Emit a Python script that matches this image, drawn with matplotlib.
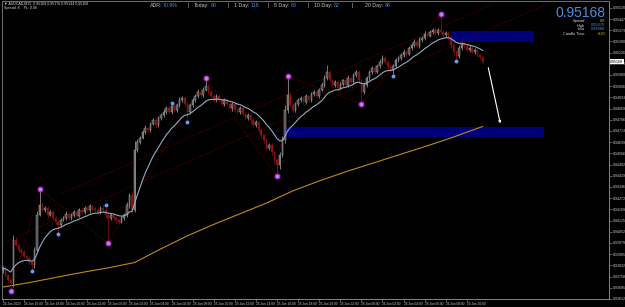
import numpy as np
import pandas as pd
import matplotlib
matplotlib.use("Agg")
import matplotlib.pyplot as plt
from matplotlib.patches import Rectangle

plt.rcParams['font.family'] = ['Liberation Sans', 'DejaVu Sans']

# ---------------- data (prices in 1e-5 units) ----------------
closes_pts = [
    93814, 93768, 93735, 93716, 93998, 93965, 93932, 93919, 93893, 93880,
    93853, 93834, 93932, 94162, 94227, 94194, 94208, 94162, 94181, 94142,
    94116, 94096, 94129, 94142, 94168, 94142, 94162, 94181, 94155, 94194,
    94181, 94208, 94194, 94221, 94201, 94194, 94181, 94208, 94194, 94162,
    94142, 94162, 94142, 94129, 94116, 94142, 94162, 94227, 94293, 94194,
    94588, 94641, 94667, 94706, 94732, 94719, 94759, 94785, 94752, 94798,
    94818, 94837, 94864, 94837, 94877, 94850, 94883, 94916, 94929, 94890,
    94837, 94883, 94916, 94942, 94969, 94949, 94982, 95008, 94969, 94942,
    94916, 94942, 94916, 94890, 94916, 94890, 94864, 94890, 94850, 94837,
    94864, 94824, 94798, 94818, 94785, 94752, 94772, 94719, 94686, 94654,
    94601, 94621, 94575, 94522, 94490, 94555, 94654, 94850, 94949, 94883,
    94850, 94890, 94916, 94929, 94903, 94942, 94916, 94955, 94969, 94942,
    94982, 95014, 95060, 95100, 95047, 95014, 95034, 94995, 95021, 95047,
    95014, 95060, 95034, 95080, 95100, 95047, 94969, 95014, 95060, 95100,
    95126, 95100, 95139, 95165, 95192, 95165, 95139, 95113, 95139, 95178,
    95192, 95211, 95231, 95218, 95257, 95277, 95297, 95270, 95310, 95323,
    95349, 95336, 95362, 95375, 95356, 95375, 95362, 95342, 95356, 95323,
    95277, 95231, 95205, 95257, 95283, 95270, 95244, 95257, 95231, 95244,
    95211, 95198, 95168,
]
first_open_pts = 93800

upper_wick_pts = [
    15, 10, 8, 12, 33, 18, 12, 10, 14, 9,
    12, 10, 20, 25, 105, 18, 14, 10, 16, 12,
    10, 8, 15, 12, 18, 10, 14, 16, 9, 12,
    15, 10, 12, 14, 9, 11, 13, 10, 25, 12,
    10, 14, 9, 12, 10, 15, 12, 20, 16, 18,
    60, 20, 15, 12, 18, 10, 14, 16, 12, 15,
    12, 18, 14, 10, 16, 12, 15, 18, 14, 10,
    12, 15, 10, 14, 18, 12, 16, 52, 14, 10,
    12, 16, 10, 14, 12, 10, 15, 12, 10, 14,
    12, 10, 14, 12, 10, 15, 12, 10, 14, 8,
    12, 10, 14, 9, 12, 20, 25, 30, 124, 18,
    12, 15, 10, 14, 12, 16, 10, 14, 12, 15,
    14, 18, 20, 46, 12, 10, 15, 12, 14, 10,
    12, 18, 10, 14, 16, 12, 10, 14, 12, 16,
    14, 12, 16, 18, 20, 12, 10, 14, 12, 16,
    14, 12, 18, 10, 16, 14, 20, 12, 16, 14,
    18, 12, 16, 14, 20, 15, 104, 18, 14, 12,
    10, 12, 14, 20, 16, 12, 15, 18, 10, 12,
    10, 12, 8,
]
lower_wick_pts = [
    20, 15, 18, 53, 25, 12, 10, 14, 12, 10,
    15, 40, 20, 12, 10, 14, 12, 18, 10, 15,
    12, 59, 14, 10, 12, 16, 10, 14, 12, 9,
    12, 14, 10, 16, 12, 10, 14, 12, 10, 20,
    164, 15, 12, 18, 14, 10, 12, 14, 20, 18,
    15, 12, 14, 10, 16, 12, 14, 10, 18, 12,
    10, 14, 12, 16, 10, 14, 12, 10, 16, 20,
    65, 14, 12, 10, 16, 12, 14, 10, 12, 16,
    14, 12, 10, 16, 12, 14, 10, 18, 12, 14,
    10, 16, 12, 14, 18, 12, 16, 14, 20, 18,
    14, 16, 18, 20, 72, 25, 16, 20, 18, 14,
    16, 12, 14, 10, 16, 12, 14, 10, 12, 16,
    12, 10, 14, 12, 16, 14, 12, 18, 10, 14,
    12, 14, 10, 16, 12, 18, 81, 14, 12, 10,
    12, 14, 10, 12, 16, 14, 18, 12, 40, 14,
    10, 12, 14, 16, 10, 12, 14, 16, 10, 12,
    14, 12, 10, 16, 12, 14, 10, 18, 12, 16,
    20, 18, 33, 14, 12, 16, 12, 14, 10, 16,
    14, 12, 10,
]

# long moving average (orange), read at every 10th bar
slow_ma_idx = [0, 10, 20, 30, 40, 50, 60, 70, 80, 90, 100, 110, 120, 130,
               140, 150, 160, 170, 180, 182]
slow_ma_pts = [93689, 93718, 93752, 93785, 93815, 93850, 93940, 94025, 94100,
               94170, 94240, 94320, 94385, 94445, 94500, 94555, 94610, 94667,
               94730, 94742]

# fractal markers
pink_idx = [3, 14, 40, 77, 104, 108, 136, 166]
pink_pts = [93663, 94332, 93978, 95060, 94418, 95073, 94888, 95479]
blue_idx = [11, 21, 39, 64, 70, 148, 172]
blue_pts = [93794, 94037, 94227, 94895, 94772, 95073, 95172]

# supply / demand zones
zone_start = [169.9, 106.6]
zone_end = [201.4, 205.2]
zone_low = [95296, 94673]
zone_high = [95369, 94739]

# channel lines
chan_a_idx = [-0.8, 206.3]
chan_a_pts = [93971, 95546]
chan_b_idx = [22.0, 185.0]
chan_b_pts = [94299, 95539]

# projection arrow
arrow_idx = [183.9, 188.9]
arrow_pts = [95146, 94745]

time_label_idx = [0, 8, 16, 24, 32, 40, 48, 56, 64, 72, 80, 88, 96, 104,
                  112, 120, 128, 136, 144, 152, 160, 168, 176]
time_labels = ["24 Jan 2023", "24 Jan 16:00", "24 Jan 18:00", "24 Jan 20:00",
               "24 Jan 22:00", "25 Jan 00:00", "25 Jan 02:00", "25 Jan 04:00",
               "25 Jan 06:00", "25 Jan 08:00", "25 Jan 10:00", "25 Jan 12:00",
               "25 Jan 14:00", "25 Jan 16:00", "25 Jan 18:00", "25 Jan 20:00",
               "25 Jan 22:00", "26 Jan 00:00", "26 Jan 02:00", "26 Jan 04:00",
               "26 Jan 06:00", "26 Jan 08:00", "26 Jan 10:00"]

price_ticks = [0.95520, 0.95447, 0.95373, 0.95300, 0.95226, 0.95153, 0.95080,
               0.95006, 0.94933, 0.94859, 0.94786, 0.94713, 0.94639, 0.94566,
               0.94492, 0.94419, 0.94346, 0.94272, 0.94199, 0.94125, 0.94052,
               0.93979, 0.93905, 0.93832, 0.93758, 0.93685, 0.93612]

adr_labels = ["ADR:", "Today:", "1 Day:", "5 Day:", "10 Day:", "20 Day:"]
adr_values = ["70.9%", "60", "118", "88", "82", "86"]
current_price = 0.95168

# ---------------- derived ----------------
closes = np.array(closes_pts) / 1e5
opens = np.concatenate([[first_open_pts / 1e5], closes[:-1]])
highs = np.maximum(opens, closes) + np.array(upper_wick_pts) / 1e5
lows = np.minimum(opens, closes) - np.array(lower_wick_pts) / 1e5
idx = np.arange(len(closes))
fast_ma = pd.Series(closes).ewm(span=14, adjust=False).mean().values

# ---------------- figure ----------------
W, H = 625, 307
fig = plt.figure(figsize=(W / 100, H / 100), dpi=100, facecolor='black')
L, R, T, B = 2, 609, 1, 299
ax = fig.add_axes([L / W, 1 - B / H, (R - L) / W, (B - T) / H])
ax.set_facecolor('black')
YMIN, YMAX = 0.936106, 0.955654
ax.set_xlim(-0.3, 229.9)
ax.set_ylim(YMIN, YMAX)

def px(x, y):
    return x / W, 1 - y / H

# zones
for s, e, lo, hi in zip(zone_start, zone_end, zone_low, zone_high):
    ax.add_patch(Rectangle((s, lo / 1e5), e - s, (hi - lo) / 1e5,
                           facecolor='#00007a', edgecolor='none', zorder=1))

# channel lines & zigzag
dot = (0, (1.5, 1.8))
ax.plot(chan_a_idx, np.array(chan_a_pts) / 1e5, color='#6a0000', lw=0.55, ls=dot, zorder=2)
ax.plot(chan_b_idx, np.array(chan_b_pts) / 1e5, color='#6a0000', lw=0.55, ls=dot, zorder=2)
ax.plot(pink_idx, np.array(pink_pts) / 1e5, color='#6a0000', lw=0.55, ls=dot, zorder=2)

# slow MA
ax.plot(slow_ma_idx, np.array(slow_ma_pts) / 1e5, color='#c08a1e', lw=0.8, zorder=2)

# candles
bull = closes >= opens
wick_col = np.where(bull, '#a8a8a8', '#8b1010')
ax.vlines(idx, lows, highs, colors=wick_col, lw=0.5, zorder=3)
body_lo = np.minimum(opens, closes)
body_h = np.maximum(np.abs(closes - opens), 0.00002)
ax.bar(idx[bull], body_h[bull], bottom=body_lo[bull], width=0.6,
       color='#4a4a4a', edgecolor='#b8b8b8', lw=0.3, zorder=4)
ax.bar(idx[~bull], body_h[~bull], bottom=body_lo[~bull], width=0.6,
       color='#8b1010', edgecolor='#8b1010', lw=0.3, zorder=4)

# fast MA
ax.plot(idx, fast_ma, color='#94aac4', lw=0.8, zorder=5)

# fractal dots
ax.scatter(pink_idx, np.array(pink_pts) / 1e5, s=26, color='#ff00ff', alpha=0.25,
           lw=0, zorder=6)
ax.scatter(pink_idx, np.array(pink_pts) / 1e5, s=10, facecolor='#a88cff',
           edgecolor='#c030c0', lw=0.7, zorder=7)
ax.scatter(blue_idx, np.array(blue_pts) / 1e5, s=8, color='#5e9eff', lw=0, zorder=7)

# arrow
ax.annotate('', xy=(arrow_idx[1], arrow_pts[1] / 1e5),
            xytext=(arrow_idx[0], arrow_pts[0] / 1e5),
            arrowprops=dict(arrowstyle='-|>', color='white', lw=0.8,
                            mutation_scale=3), zorder=8)

# axes styling
for sp in ['left', 'top']:
    ax.spines[sp].set_color('#6a6a6a')
    ax.spines[sp].set_linewidth(0.8)
for sp in ['right', 'bottom']:
    ax.spines[sp].set_color('#9a9a9a')
    ax.spines[sp].set_linewidth(0.6)

ax.yaxis.tick_right()
ax.set_yticks(price_ticks)
ax.set_yticklabels([f"{p:.5f}" for p in price_ticks])
ax.tick_params(axis='y', colors='#9a9a9a', labelcolor='#c8c8c8', labelsize=2.6,
               length=2, width=0.4, pad=1)
ax.set_xticks(time_label_idx)
ax.set_xticklabels(time_labels, ha='left')
ax.tick_params(axis='x', colors='#9a9a9a', labelcolor='#c8c8c8', labelsize=2.3,
               length=2, width=0.4, pad=0.5)

# current price box
ax.text(1.002, (current_price - YMIN) / (YMAX - YMIN),
        f"{current_price:.5f}", transform=ax.transAxes, fontsize=2.6,
        color='black', va='center', ha='left',
        bbox=dict(boxstyle='square,pad=0.15', facecolor='white', edgecolor='none'))

# header top-left
fig.text(*px(4, 4), "\u25bc AUDCAD,M15  0.95168 0.95176 0.95144 0.95168",
         fontsize=2.6, color='#d8d8d8', va='center', ha='left')
fig.text(*px(4, 8.5), "Spread: 8    PL: 0.00", fontsize=2.6, color='#d8d8d8',
         va='center', ha='left')

# ADR bar
lab_x = [150, 194, 234, 274, 314, 365]
val_x = [163, 211, 251, 291, 334, 385]
sep_x = [187, 227, 268, 308, 351]
for lx, lt, vx, vt in zip(lab_x, adr_labels, val_x, adr_values):
    fig.text(*px(lx, 5.5), lt, fontsize=3.8, color='#c8c8c8', va='center', ha='left')
    fig.text(*px(vx, 5.5), vt, fontsize=3.8, color='#4a8fe0', va='center', ha='left')
for sx in sep_x:
    fig.text(*px(sx, 5.5), "|", fontsize=3.8, color='#c8c8c8', va='center', ha='left')

# top-right info panel
fig.text(*px(605, 13), f"{current_price:.5f}", fontsize=10, color='#4a8fe0',
         va='center', ha='right')
info_rows = [("Spread", "0.8", '#e0c000', 21), ("High", "0.95479", '#4a8fe0', 25.5),
             ("Low", "0.94888", '#4a8fe0', 29.5), ("Candle Time", "6:30", '#e0c000', 34)]
for lab, val, col, yy in info_rows:
    fig.text(*px(585, yy), lab, fontsize=2.8, color='#e0e0e0', va='center', ha='right')
    fig.text(*px(605, yy), val, fontsize=2.8, color=col, va='center', ha='right')

fig.savefig('out.png', dpi=100, facecolor='black')
